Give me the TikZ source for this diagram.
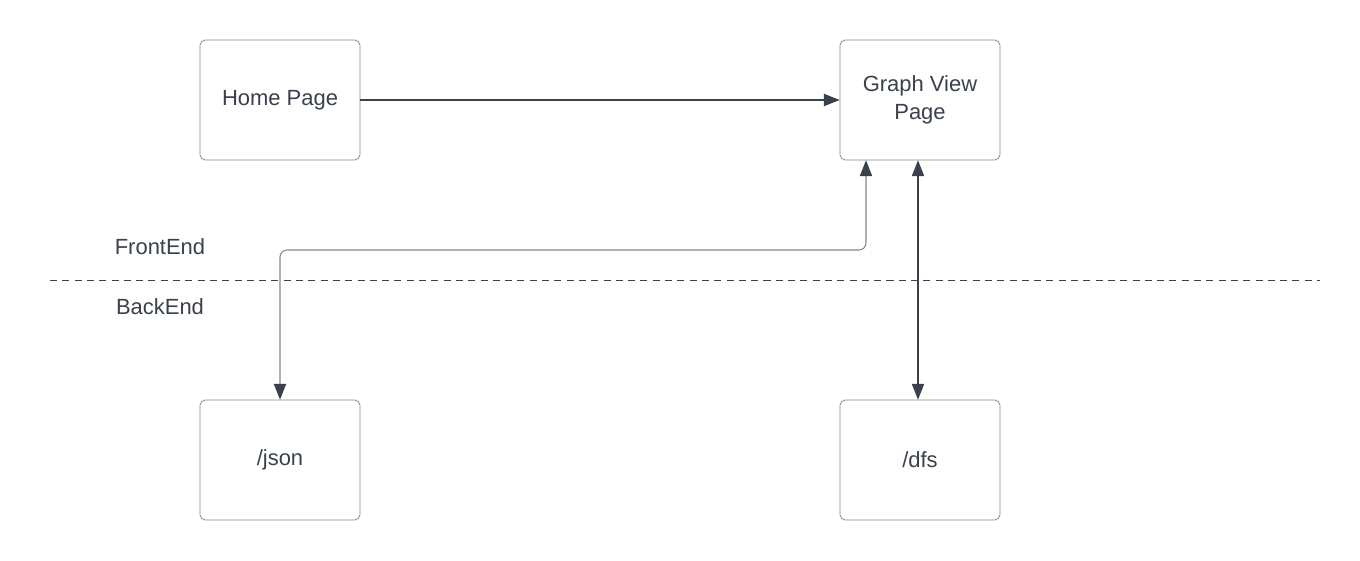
\documentclass[tikz,border=0pt]{standalone}
\usepackage{fontspec}
\setmainfont{Liberation Sans}
\usepackage{tikz}
\usetikzlibrary{arrows.meta,positioning}
\usepackage{xcolor}
\definecolor{pgdark}{RGB}{58,65,76}
\definecolor{pggrey}{RGB}{130,134,140}
\tikzstyle{arrow} = [semithick,{Triangle[length=9pt,width=7pt,color=pgdark]}-{Triangle[length=9pt,width=7pt,color=pgdark]},color=pgdark]
\tikzstyle{page} = [rectangle, rounded corners=3pt, minimum width=3.2cm, minimum height=2.4cm, text centered, align=center, draw=pggrey, thin, text=pgdark, font=\fontsize{12.5}{16}\selectfont]

\begin{document}
\begin{tikzpicture}
\useasboundingbox[fill=white] (0,0) rectangle (27.2,-11.2);
% Pages
\node[page] (home) at (5.6,-2) {Home Page};
\node[page] (graph) at (18.4,-2) {Graph View\\Page};
\node[page] (json) at (5.6,-9.2) {/json};
\node[page] (dfs) at (18.4,-9.2) {/dfs};

% Split between front and back
\coordinate (splitL) at (1,-5.6);
\coordinate (splitR) at (26.4,-5.6);
\draw[pgdark, thin, dash pattern=on 4pt off 3pt] (splitL) -- (splitR);
\node[text=pgdark, font=\fontsize{12.5}{15}\selectfont] (front) at (3.2,-4.94) {FrontEnd};
\node[text=pgdark, font=\fontsize{12.5}{15}\selectfont] (back) at (3.2,-6.14) {BackEnd};

% Connectors
\draw[arrow, -{Triangle[length=9pt,width=7pt]}] (home.east) -- (graph.west);
\coordinate (bend) at (5.6,-5);
\draw[arrow, color=pggrey, rounded corners=4pt] ([xshift=-1.08cm]graph.south) |- (bend) -- (json.north);
\draw[arrow] ([xshift=-0.04cm]graph.south) -- ([xshift=-0.04cm]dfs.north);
\end{tikzpicture}
\end{document}
